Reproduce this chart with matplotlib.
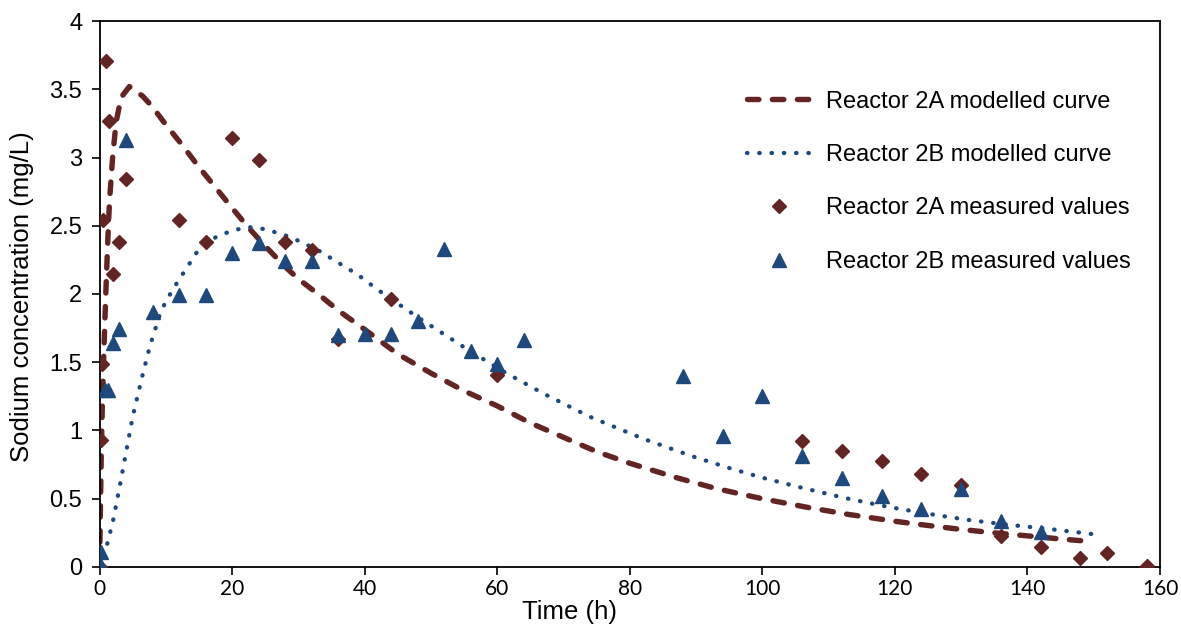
import matplotlib
matplotlib.use('Agg')
import matplotlib.pyplot as plt

# modelled curves
curve_a_t = [0, 0.1, 0.25, 0.4, 0.6, 0.8, 1.0, 1.25, 1.5, 2.0, 2.5, 3.25, 4.5, 6.5, 8, 10, 12, 15, 17, 20,
             22.4, 25, 28, 30, 33.5, 36, 40, 45, 50, 55, 60, 65, 70, 75, 80, 87, 93, 100, 107, 113, 120,
             124, 130, 135, 140, 145, 150]
curve_a_c = [0, 0.35, 0.8, 1.15, 1.5, 1.8, 2.08, 2.4, 2.68, 3.02, 3.26, 3.44, 3.52, 3.45, 3.37, 3.24, 3.12,
             2.93, 2.81, 2.63, 2.49, 2.35, 2.2, 2.11, 1.98, 1.88, 1.74, 1.56, 1.42, 1.29, 1.18, 1.055, 0.95,
             0.845, 0.76, 0.655, 0.575, 0.50, 0.435, 0.385, 0.335, 0.31, 0.275, 0.25, 0.228, 0.205, 0.185]

curve_b_t = [0, 1, 2, 3, 4, 5, 6.3, 7.6, 9.3, 11, 12.6, 14.6, 17.5, 20, 22.5, 25, 28, 30, 33, 36, 39, 42,
             45, 48, 51.5, 55, 58, 61, 64, 67, 70.5, 74, 77.5, 82, 89.5, 95, 100, 106, 112.5, 119, 125,
             131, 137, 143, 150]
curve_b_c = [0, 0.14, 0.33, 0.58, 0.84, 1.10, 1.37, 1.62, 1.88, 2.03, 2.15, 2.30, 2.415, 2.465, 2.49, 2.475,
             2.43, 2.39, 2.32, 2.23, 2.14, 2.03, 1.93, 1.83, 1.72, 1.61, 1.52, 1.43, 1.35, 1.27, 1.185,
             1.10, 1.03, 0.94, 0.81, 0.725, 0.654, 0.58, 0.505, 0.44, 0.39, 0.345, 0.31, 0.28, 0.24]

# measured values
meas_a_t = [0, 0.15, 0.4, 0.5, 1, 1.5, 2, 3, 4, 12, 16, 20, 24, 28, 32, 36, 44, 60,
            106, 112, 118, 124, 130, 136, 142, 148, 152, 158]
meas_a_c = [0, 0.93, 1.49, 2.54, 3.71, 3.27, 2.15, 2.38, 2.84, 2.54, 2.38, 3.14, 2.98, 2.38, 2.32, 1.67,
            1.96, 1.41, 0.92, 0.85, 0.78, 0.68, 0.60, 0.23, 0.15, 0.066, 0.10, 0.01]

meas_b_t = [0, 0.25, 0.75, 1.25, 2, 3, 4, 8, 12, 16, 20, 24, 28, 32, 36, 40, 44, 48, 52, 56, 60, 64,
            88, 94, 100, 106, 112, 118, 124, 130, 136, 142]
meas_b_c = [0.02, 0.11, 1.30, 1.30, 1.64, 1.74, 3.13, 1.87, 1.99, 1.99, 2.30, 2.37, 2.24, 2.24, 1.70, 1.71,
            1.71, 1.80, 2.33, 1.58, 1.49, 1.66, 1.40, 0.956, 1.25, 0.815, 0.65, 0.517, 0.424, 0.571,
            0.339, 0.256]

labels = ['Reactor 2A modelled curve', 'Reactor 2B modelled curve',
          'Reactor 2A measured values', 'Reactor 2B measured values']

red = '#632523'
blue = '#1F497D'

fig = plt.figure(figsize=(11.81, 6.29), dpi=100)
ax = fig.add_axes([0.0843, 0.0986, 0.8979, 0.8680])

ax.plot(curve_a_t, curve_a_c, color=red, lw=3.9, linestyle=(0, (2.1, 2.5)),
        dash_capstyle='round', label=labels[0])
ax.plot(curve_b_t, curve_b_c, color=blue, lw=3.1, linestyle=(0, (0.1, 2.75)),
        dash_capstyle='round', label=labels[1])
ax.plot(meas_a_t, meas_a_c, 'D', color=red, ms=7.5, mec=red, label=labels[2], zorder=3)
ax.plot(meas_b_t, meas_b_c, '^', color=blue, ms=10.5, mec=blue, label=labels[3], zorder=4)

ax.set_xlim(0, 160)
ax.set_ylim(0, 4)
ax.set_xticks(range(0, 161, 20))
ax.set_yticks([0, 0.5, 1, 1.5, 2, 2.5, 3, 3.5, 4])
ax.set_yticklabels(['0', '0.5', '1', '1.5', '2', '2.5', '3', '3.5', '4'])

for s in ax.spines.values():
    s.set_linewidth(1.3)
    s.set_color('black')

ax.tick_params(axis='x', direction='out', length=5.5, width=1.2, pad=3, labelsize=15)
ax.tick_params(axis='y', direction='out', length=5.5, width=1.2, pad=7, labelsize=17)
for lab in ax.get_xticklabels():
    lab.set_family('Lato')
for lab in ax.get_yticklabels():
    lab.set_family('Liberation Sans')

ax.set_xlabel('Time (h)', fontsize=18.5, family='Liberation Sans')
ax.xaxis.label.set_va('center')
ax.xaxis.set_label_coords(0.4436, -0.082)
ax.set_ylabel('Sodium concentration (mg/L)', fontsize=18.5, family='Liberation Sans')
ax.yaxis.label.set_va('center')
ax.yaxis.set_label_coords(-0.073, 0.495)

ax.legend(loc='upper left', bbox_to_anchor=(0.6325, 0.856), bbox_transform=fig.transFigure,
          frameon=False, borderpad=0, borderaxespad=0, handlelength=2.75, handletextpad=0.6,
          labelspacing=1.33, numpoints=1, prop={'family': 'Liberation Sans', 'size': 17})

fig.savefig('out.png', dpi=100)
